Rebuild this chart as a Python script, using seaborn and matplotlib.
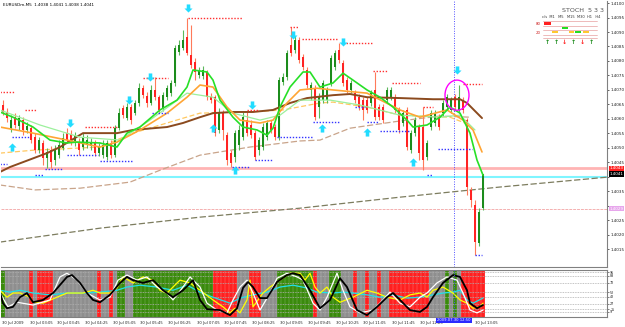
import numpy as np
import pandas as pd
import matplotlib
matplotlib.use("Agg")
import matplotlib.pyplot as plt
import seaborn as sns
from matplotlib.patches import Ellipse, Rectangle
from matplotlib.path import Path

sns.set_theme(style="white")
plt.rcParams['font.family'] = ['DejaVu Sans']

# ---------------- candle data (EURUSDm M5, 30 Jul 2009) ----------------
OPEN = [1.40648,1.40624,1.40568,1.40606,1.40575,1.40596,1.40562,1.40568,1.40537,1.40492,
1.40517,1.40465,1.40492,1.40458,1.40475,1.40499,1.40551,1.40548,1.40517,1.40517,
1.40503,1.40510,1.40506,1.40517,1.40482,1.40475,1.40468,1.40517,1.40475,1.40568,
1.40637,1.40603,1.40641,1.40620,1.40655,1.40706,1.40679,1.40655,1.40700,1.40675,
1.40637,1.40675,1.40689,1.40724,1.40831,1.40844,1.40882,1.40820,1.40796,1.40751,
1.40748,1.40762,1.40675,1.40675,1.40562,1.40620,1.40544,1.40482,1.40468,1.40510,
1.40537,1.40596,1.40579,1.40551,1.40492,1.40503,1.40537,1.40586,1.40572,1.40537,
1.40727,1.40744,1.40855,1.40838,1.40872,1.40813,1.40769,1.40700,1.40706,1.40641,
1.40665,1.40665,1.40724,1.40779,1.40838,1.40793,1.40734,1.40700,1.40689,1.40675,
1.40665,1.40665,1.40655,1.40700,1.40641,1.40641,1.40665,1.40675,1.40675,1.40631,
1.40586,1.40631,1.40492,1.40551,1.40572,1.40572,1.40468,1.40572,1.40586,1.40606,
1.40620,1.40641,1.40631,1.40675,1.40631,1.40665,1.40596,1.40355,1.40303,1.40172,
1.40292]
HIGH = [1.40665,1.40637,1.40613,1.40620,1.40613,1.40606,1.40589,1.40579,1.40551,1.40537,
1.40527,1.40499,1.40506,1.40510,1.40527,1.40551,1.40568,1.40562,1.40555,1.40534,
1.40551,1.40544,1.40534,1.40527,1.40517,1.40527,1.40527,1.40527,1.40579,1.40637,
1.40648,1.40655,1.40651,1.40665,1.40724,1.40717,1.40693,1.40717,1.40744,1.40682,
1.40693,1.40717,1.40734,1.40855,1.40872,1.40907,1.40948,1.40924,1.40810,1.40779,
1.40782,1.40769,1.40689,1.40682,1.40637,1.40631,1.40555,1.40492,1.40562,1.40579,
1.40624,1.40624,1.40596,1.40562,1.40537,1.40586,1.40596,1.40596,1.40582,1.40744,
1.40758,1.40838,1.40917,1.40886,1.40882,1.40824,1.40779,1.40727,1.40717,1.40689,
1.40734,1.40710,1.40820,1.40838,1.40862,1.40803,1.40744,1.40734,1.40700,1.40686,
1.40675,1.40675,1.40700,1.40762,1.40651,1.40651,1.40710,1.40710,1.40686,1.40641,
1.40631,1.40641,1.40562,1.40606,1.40582,1.40641,1.40527,1.40631,1.40631,1.40617,
1.40665,1.40686,1.40675,1.40686,1.40717,1.40675,1.40603,1.40365,1.40320,1.40292,
1.40410]
LOW = [1.40613,1.40589,1.40555,1.40568,1.40562,1.40544,1.40551,1.40517,1.40482,1.40482,
1.40441,1.40430,1.40430,1.40441,1.40465,1.40492,1.40517,1.40510,1.40506,1.40475,
1.40492,1.40499,1.40492,1.40472,1.40472,1.40465,1.40458,1.40465,1.40468,1.40562,
1.40603,1.40596,1.40582,1.40613,1.40644,1.40672,1.40641,1.40648,1.40665,1.40620,
1.40627,1.40665,1.40679,1.40713,1.40820,1.40838,1.40820,1.40775,1.40734,1.40741,
1.40737,1.40665,1.40655,1.40541,1.40551,1.40527,1.40441,1.40434,1.40451,1.40492,
1.40527,1.40541,1.40534,1.40458,1.40475,1.40492,1.40527,1.40551,1.40527,1.40527,
1.40717,1.40734,1.40817,1.40827,1.40793,1.40769,1.40706,1.40665,1.40596,1.40603,
1.40655,1.40655,1.40713,1.40769,1.40793,1.40713,1.40689,1.40689,1.40655,1.40631,
1.40596,1.40620,1.40644,1.40596,1.40596,1.40586,1.40655,1.40665,1.40620,1.40551,
1.40575,1.40492,1.40482,1.40541,1.40458,1.40423,1.40458,1.40562,1.40575,1.40562,
1.40610,1.40631,1.40620,1.40631,1.40620,1.40620,1.40337,1.40296,1.40130,1.40161,
1.40286]
CLOSE = [1.40624,1.40603,1.40596,1.40579,1.40603,1.40562,1.40575,1.40527,1.40492,1.40527,
1.40465,1.40486,1.40451,1.40492,1.40510,1.40534,1.40527,1.40527,1.40541,1.40492,
1.40537,1.40527,1.40517,1.40482,1.40503,1.40510,1.40517,1.40475,1.40568,1.40620,
1.40613,1.40641,1.40596,1.40655,1.40706,1.40682,1.40655,1.40700,1.40675,1.40631,
1.40682,1.40706,1.40724,1.40844,1.40855,1.40872,1.40827,1.40786,1.40762,1.40769,
1.40769,1.40675,1.40665,1.40551,1.40624,1.40562,1.40458,1.40447,1.40551,1.40562,
1.40606,1.40551,1.40544,1.40468,1.40527,1.40572,1.40586,1.40562,1.40537,1.40734,
1.40744,1.40827,1.40827,1.40872,1.40803,1.40779,1.40717,1.40717,1.40606,1.40675,
1.40724,1.40700,1.40810,1.40827,1.40803,1.40724,1.40700,1.40724,1.40665,1.40641,
1.40631,1.40631,1.40689,1.40606,1.40606,1.40596,1.40700,1.40700,1.40631,1.40562,
1.40620,1.40503,1.40551,1.40596,1.40482,1.40458,1.40517,1.40620,1.40620,1.40572,
1.40655,1.40675,1.40665,1.40641,1.40675,1.40631,1.40365,1.40320,1.40175,1.40279,
1.40410]
assert len(OPEN) == len(HIGH) == len(LOW) == len(CLOSE) == 121

# ---------------- moving averages (bar index, price) ----------------
FAST_X = [-0.75,2.5,7.5,11.75,16,18.5,24.25,28.5,31,34.25,39.25,43.5,46,47.5,51,52.5,54.25,57.5,60,63.5,66,67.5,69.25,71.75,75,76.75,79.25,82.5,85,87.5,91,94.25,97.5,101,102.5,106,109.25,111.75,114.25,116.75,118.5,120]
FAST_Y = [1.40624,1.40606,1.40572,1.40527,1.40517,1.40520,1.40517,1.40503,1.40551,1.40572,1.40631,1.40665,1.40710,1.40769,1.40762,1.40734,1.40665,1.40606,1.40572,1.40562,1.40544,1.40568,1.40641,1.40710,1.40762,1.40762,1.40710,1.40724,1.40758,1.40734,1.40700,1.40675,1.40641,1.40596,1.40572,1.40579,1.40606,1.40641,1.40620,1.40551,1.40458,1.40406]
ORANGE_X = [-0.75,7.5,16,24.25,28.5,34.25,41,46,49.25,52.5,56,59.25,64.25,67.5,71,74.25,78.5,82.5,91,99.25,104.25,111,115,117.5,119.75]
ORANGE_Y = [1.40572,1.40551,1.40527,1.40503,1.40520,1.40562,1.40620,1.40675,1.40717,1.40710,1.40641,1.40596,1.40586,1.40596,1.40655,1.40700,1.40706,1.40700,1.40689,1.40631,1.40606,1.40631,1.40596,1.40562,1.40486]
LGREEN_X = [-0.75,9.25,19.25,29.25,36.75,46,52.5,57.5,64.25,69.25,74.25,81.75,89.25,99.25,109.25,114.25,118]
LGREEN_Y = [1.40631,1.40579,1.40537,1.40527,1.40596,1.40689,1.40675,1.40620,1.40596,1.40613,1.40665,1.40665,1.40648,1.40613,1.40606,1.40613,1.40562]
LORANGE_X = [-0.75,7.5,24.25,32.5,41,49.25,61.75,70,79.25,82.5,91,99.25,111.75,116.75]
LORANGE_Y = [1.40482,1.40492,1.40503,1.40551,1.40586,1.40620,1.40624,1.40631,1.40655,1.40658,1.40641,1.40613,1.40606,1.40579]
BROWN_X = [-0.75,1.75,11,14.25,20,28.5,32.5,41,45,49.25,52.5,57.5,62.5,67.5,71.75,76,82.5,86.75,91,99.25,107.5,114.25,116,119.75]
BROWN_Y = [1.40417,1.40434,1.40482,1.40503,1.40551,1.40551,1.40562,1.40572,1.40586,1.40606,1.40620,1.40624,1.40624,1.40631,1.40655,1.40672,1.40682,1.40686,1.40675,1.40672,1.40668,1.40668,1.40655,1.40603]
TAN_X = [-0.75,8,19.25,31.75,39.25,49.25,61.75,74.25,79.25,86.75,99.25,109.25,116.75]
TAN_Y = [1.40372,1.40355,1.40361,1.40382,1.40423,1.40475,1.40503,1.40524,1.40527,1.40568,1.40593,1.40610,1.40606]
GRAY_X = [-0.75,24.25,49.25,74.25,99.25,124.25,151]
GRAY_Y = [1.40175,1.40223,1.40261,1.40292,1.40330,1.40365,1.40399]

# support / resistance segments (start bar, end bar, price)
RES = [(-0.75,3,1.40693),(5.5,8.5,1.40631),(20.5,28.75,1.40572),(35,41.25,1.40741),
       (46.25,60,1.40948),(61,63.75,1.40631),(71.75,73.75,1.40917),(74.75,83.5,1.40875),
       (85,92.25,1.40862),(92.5,96.25,1.40765),(97.25,104.25,1.40724),(105,107.5,1.40641),
       (115,119.75,1.40720)]
SUP = [(-0.75,1,1.40444),(2.25,6.75,1.40537),(8,10,1.40406),(10.5,15,1.40427),
       (16,23.75,1.40475),(24.25,32.5,1.40455),(37.25,41.25,1.40620),(57.25,61.75,1.40434),
       (63,67.5,1.40458),(68.5,77.25,1.40537),(77.5,84.25,1.40589),(88,90.5,1.40641),
       (91,93.75,1.40589),(94.25,101.75,1.40558),(106,107.5,1.40406),(108.75,117.25,1.40496),
       (118,119.75,1.40130)]
ARROW_DN_X = [46.25,16.75,36.75,31.5,62.25,72.5,85,113.5]
ARROW_DN_Y = [1.40982,1.40586,1.40744,1.40665,1.40648,1.40889,1.40865,1.40769]
ARROW_UP_X = [2.25,52.5,58,79.75,91,102.5]
ARROW_UP_Y = [1.40503,1.40568,1.40423,1.40568,1.40555,1.40451]

LEVEL_RED = 1.4043
LEVEL_CYAN = 1.4040
LEVEL_PINK = 1.4029
BID = 1.4041
CURSOR_BAR = 112.75
PRICE_TICKS = [1.4015,1.4020,1.4025,1.4030,1.4035,1.4040,1.4045,1.4050,1.4055,1.4060,
               1.4065,1.4070,1.4075,1.4080,1.4085,1.4090,1.4095,1.4100]
HIDDEN_TICKS = [1.4030, 1.4040]   # covered by the price boxes

# ---------------- stochastic sub-window ----------------
ZONES = ''.join(["g","xxxxxx","r","x","rrrr","xxxxxxxxxxx","r","xx","r","x","gg","xx",
                 "gggggggggggggggggggg","rrrrrr","xxx","rrr","xxxx","ggggggggg","r","xxx",
                 "ggg","xxx","r","xx","r","xx","r","xx","rrrrrrrrrr","xxxx","g","x","g","x","rrrrrr"])
assert len(ZONES) == 121
BLACK_X = [-0.75,0,1,2.5,4.25,6,7.5,10,12.5,16,17.25,19.25,21,22.5,24.25,26.75,29.25,31,32.5,35,37.5,40,42.5,45,47.5,49.25,51,54.25,56.75,58.5,60,61.25,62.5,64.25,66,68.5,71,72.5,74.25,76.75,79.25,81.75,84.25,86,88.5,91,93.5,96,97.5,99.25,101.75,104.25,106,107.5,110,112.5,114.25,116,116.75,118.5,120]
BLACK_Y = [52,28,17,20,41,50,30,35,50,85,89,72,50,35,30,46,72,85,78,72,78,56,41,56,78,35,15,13,2,17,61,74,63,39,39,74,89,93,89,56,17,35,82,63,13,2,20,41,50,35,13,9,20,41,72,89,85,56,28,17,24]
WHITE_X = [-0.75,1.25,3.5,7.5,11.75,14.25,16,18.5,21,24.25,26.75,28.75,31,33.5,36,38.5,41,42.5,45,46.75,49.25,51,53.5,56,57.5,59.25,61,62.5,64.25,66.75,68.5,71,73.5,75,77.5,79.25,81,83.5,85,86.75,89.25,92.5,95,96.75,99.25,101.75,104.25,106,108.5,111,113.5,115,116.75,118.5,120]
WHITE_Y = [50,20,30,24,35,85,93,78,50,35,41,78,89,78,85,63,50,35,63,85,63,28,13,7,35,63,78,50,13,50,82,93,85,78,28,13,41,93,56,20,7,13,35,52,28,20,41,50,72,85,78,50,13,7,13]
YELLOW_X = [-0.75,1,2.5,4.25,6.75,7.5,10,13.5,16,20,22.5,24.25,26.75,28.5,30,32.5,35,37.5,39.25,41,42.5,44.25,46.75,49.25,52.5,55,56.75,58,59.25,61,61.75,62.5,63.75,65,66.75,69.25,71.75,74.25,75.5,76.75,78,79.25,81,82.5,84.25,87.5,91,93.5,96,99.25,101.75,104.25,106,107.5,110,112.5,114.25,116,117.5,119.25,120]
YELLOW_Y = [56,41,50,50,41,30,28,41,50,50,56,50,50,61,85,72,85,78,56,50,63,78,72,56,35,20,7,17,7,35,78,20,35,50,63,78,93,93,78,93,63,50,63,41,30,41,56,50,41,35,46,50,41,56,63,50,35,28,17,20,28]
CYAN_X = [-0.75,1.75,4.25,7.5,11.75,16,20,24.25,28.5,31,34.25,38.5,42.5,46,49.25,52.5,56.75,59.25,62.5,66,69.25,72.5,76,78.5,82.5,85,87.5,91,94.25,97.5,101,104.25,107.5,110,112.5,114.25,116,117.5,120]
CYAN_Y = [56,52,56,50,46,50,50,52,56,63,67,63,56,67,52,41,28,39,46,52,63,67,61,52,50,52,50,46,41,46,39,41,46,50,52,56,35,28,39]
STOCH_LEVELS = [95, 88, 72, 52, 42, 27, 15, 9]

TICK_BARS = [-0.25,6.75,13.5,20.5,27.5,34.25,41.25,48.5,55.25,62.25,69.25,76.25,83.25,90,97.25,104.25,118]
TICK_LABELS = ["30 Jul 2009","30 Jul 03:05","30 Jul 03:45","30 Jul 04:25","30 Jul 05:05",
               "30 Jul 05:45","30 Jul 06:25","30 Jul 07:05","30 Jul 07:45","30 Jul 08:25",
               "30 Jul 09:05","30 Jul 09:45","30 Jul 10:25","30 Jul 11:05","30 Jul 11:45",
               "30 Jul 12:25","30 Jul 13:05"]

# ---------------- figure ----------------
W, H = 625, 327
fig = plt.figure(figsize=(W/100, H/100), dpi=100)
fig.patch.set_facecolor('white')
ax = fig.add_axes([1/W, 1-267/H, 606/W, 266/H])
ax2 = fig.add_axes([1/W, 1-317/H, 606/W, 47/H])

XMIN, XMAX = -0.5, 151
ax.set_xlim(XMIN, XMAX)
ax.set_ylim(1.40089, 1.41007)

bars = np.arange(len(CLOSE))
o = np.array(OPEN); c = np.array(CLOSE); hi = np.array(HIGH); lo = np.array(LOW)
up = c >= o
GREEN, RED = '#1c8c1c', '#ff2323'

# horizontal levels
ax.axhline(LEVEL_RED, color='#ffb4b4', lw=2.0, zorder=1)
ax.axhline(LEVEL_CYAN, color='#7ff5ff', lw=1.5, zorder=1)
ax.axhline(LEVEL_PINK, color='#f4b0b0', lw=0.7, ls=(0, (3, 1)), zorder=1)
ax.axvline(CURSOR_BAR, color='#5050ff', lw=0.7, ls=(0, (1, 1.5)), zorder=1)

# moving averages via seaborn
def ma(xs, ys, color, lw, ls='-', z=3):
    d = pd.DataFrame({'bar': xs, 'price': ys})
    sns.lineplot(data=d, x='bar', y='price', ax=ax, color=color, lw=lw,
                 linestyle=ls, estimator=None, sort=False, zorder=z)

ma(GRAY_X, GRAY_Y, '#7d7d5f', 0.9, (0, (5, 2)))
ma(TAN_X, TAN_Y, '#c9a48a', 0.9, (0, (5, 2)))
ma(LORANGE_X, LORANGE_Y, '#ffc860', 0.9, (0, (4, 2)))

# candles
wick_col = np.where(up, '#5cb85c', '#ff7a5a')
ax.vlines(bars, lo, hi, colors=wick_col, lw=0.8, zorder=4)
body_bottom = np.minimum(o, c)
body_h = np.maximum(np.abs(c - o), 0.00003)
ax.bar(bars, body_h, bottom=body_bottom, width=0.62,
       color=np.where(up, GREEN, RED), linewidth=0, zorder=5)

ma(BROWN_X, BROWN_Y, '#8b4a1e', 1.4, z=6)
ma(LGREEN_X, LGREEN_Y, '#9cf09c', 0.9, z=6)
ma(ORANGE_X, ORANGE_Y, '#ffa534', 1.2, z=6)
ma(FAST_X, FAST_Y, '#27e027', 1.2, z=7)

for x0, x1, p in RES:
    ax.hlines(p, x0, x1, color='#ff3030', lw=1.0, ls=(0, (1, 1.2)), zorder=6)
for x0, x1, p in SUP:
    ax.hlines(p, x0, x1, color='#3535ff', lw=1.0, ls=(0, (1, 1.2)), zorder=6)

# arrows
dn = Path([(-0.22, 0.5), (0.22, 0.5), (0.22, 0.0), (0.5, 0.0), (0.0, -0.5), (-0.5, 0.0),
           (-0.22, 0.0), (-0.22, 0.5)],
          [Path.MOVETO] + [Path.LINETO]*6 + [Path.CLOSEPOLY])
upm = Path([(x, -y) for x, y in dn.vertices], dn.codes)
ax.scatter(ARROW_DN_X, ARROW_DN_Y, marker=dn, s=34, color='#22dcff', lw=0, zorder=8)
ax.scatter(ARROW_UP_X, ARROW_UP_Y, marker=upm, s=34, color='#22dcff', lw=0, zorder=8)

ax.add_patch(Ellipse((113.5, 1.40682), 6.0, 0.00104, fill=False, edgecolor='#ff00ff',
                     lw=1.0, zorder=9))

# axes style
ax.set_xlabel(''); ax.set_ylabel('')
ax.set_xticks([])
ax.yaxis.tick_right()
ax.set_yticks(PRICE_TICKS)
ax.set_yticklabels(['' if v in HIDDEN_TICKS else f"{v:.4f}" for v in PRICE_TICKS])
ax.tick_params(axis='y', labelsize=3.0, length=1.5, width=0.5, pad=0.8, colors='#202020')
for s in ax.spines.values():
    s.set_color('#808080'); s.set_linewidth(0.8)
ax.spines['left'].set_visible(False)
ax.spines['top'].set_visible(False)

ytr = ax.get_yaxis_transform()
for p, txt, fc in [(LEVEL_RED, f"{LEVEL_RED:.4f}", '#ff2020'), (BID, f"{BID:.4f}", '#000000'),
                   (LEVEL_PINK, f"{LEVEL_PINK:.4f}", '#e7a6ec')]:
    ax.text(1.004, p, txt, transform=ytr, fontsize=3.0, color='white', va='center', ha='left',
            bbox=dict(facecolor=fc, edgecolor='none', pad=0.4), clip_on=False, zorder=10)

fig.text(3/W, 1-5/H, "EURUSDm,M5  1.4038 1.4041 1.4038 1.4041", fontsize=3.0,
         color='#000000', va='center', ha='left')

# STOCH multi-timeframe box (top right)
def px(x, y):
    return x/W, 1-y/H
fig.text(*px(583, 10), "STOCH  5 3 3", fontsize=4.6, color='#555555', ha='center', va='center')
fig.text(*px(571, 17), "c/s  M1   M5   M15  M30  H1   H4", fontsize=2.6, color='#333333',
         ha='center', va='center')
fig.text(*px(538, 24), "80", fontsize=2.8, color='#cc2020', ha='center', va='center')
fig.text(*px(538, 33), "20", fontsize=2.8, color='#cc2020', ha='center', va='center')
for yy in [21, 25.5, 30, 34.5, 38]:
    fig.add_artist(plt.Line2D([543/W, 597/W], [1-yy/H]*2, color='#e8a0a0', lw=0.5))
for (x0, y0, w, h, fc) in [(544, 22, 7, 2.5, '#ff2020'), (562, 26.5, 6, 2.5, '#22dd22'),
                            (575, 30.5, 6, 2.5, '#22dd22'), (552, 31, 6, 2, '#ffc830'),
                            (569, 31, 5, 2, '#ffc830'), (583, 31, 6, 2, '#ffc830')]:
    fig.add_artist(Rectangle((x0/W, 1-(y0+h)/H), w/W, h/H, facecolor=fc, edgecolor='none'))
for xx, col, sym in [(547, '#1c8c1c', '↑'), (556, '#1c8c1c', '↑'), (564, '#ff2020', '↓'),
                     (573, '#1c8c1c', '↑'), (582, '#ff2020', '↓'), (591, '#1c8c1c', '↑')]:
    fig.text(*px(xx, 42), sym, fontsize=4.5, color=col, ha='center', va='center',
             fontweight='bold')

# ---------------- sub-window ----------------
ax2.set_xlim(XMIN, XMAX)
ax2.set_ylim(-2, 100)
zone_col = {'g': '#3a8a0c', 'r': '#ff2020', 'x': '#8e8e8e'}
ax2.bar(bars, 102, bottom=-2, width=1.0, color=[zone_col[z] for z in ZONES], linewidth=0, zorder=1)
ax2.vlines(bars + 0.5, -2, 100, color='white', lw=0.35, ls=(0, (1, 1)), alpha=0.7, zorder=2)
ax2.hlines(STOCH_LEVELS, XMIN, XMAX, color='#b0b0b0', lw=0.6, ls=(0, (1, 1)), zorder=2)
ax2.axvline(CURSOR_BAR, color='#5050ff', lw=0.7, ls=(0, (1, 1.5)), zorder=6)

def sl(xs, ys, color, lw, z):
    d = pd.DataFrame({'bar': xs, 'value': ys})
    sns.lineplot(data=d, x='bar', y='value', ax=ax2, color=color, lw=lw,
                 estimator=None, sort=False, zorder=z)

sl(CYAN_X, CYAN_Y, '#20e0e8', 0.9, 3)
sl(YELLOW_X, YELLOW_Y, '#ffff00', 0.9, 4)
sl(WHITE_X, WHITE_Y, '#ffffff', 0.9, 4)
sl(BLACK_X, BLACK_Y, '#000000', 1.3, 5)

ax2.set_xlabel(''); ax2.set_ylabel('')
ax2.yaxis.tick_right()
ax2.set_yticks(STOCH_LEVELS)
ax2.set_yticklabels([str(v) for v in STOCH_LEVELS])
ax2.tick_params(axis='y', labelsize=2.4, length=1.5, width=0.4, pad=0.8, colors='#202020')
ax2.set_xticks(TICK_BARS)
ax2.set_xticklabels(TICK_LABELS, ha='left')
ax2.tick_params(axis='x', labelsize=2.7, length=2, width=0.5, pad=0.8, colors='#202020')
for s in ax2.spines.values():
    s.set_color('#808080'); s.set_linewidth(0.8)
ax2.spines['left'].set_visible(False)

ax2.text(CURSOR_BAR, -0.03, "2009.07.30 12:50", transform=ax2.get_xaxis_transform(),
         fontsize=2.7, color='white', ha='center', va='top',
         bbox=dict(facecolor='#2a2aff', edgecolor='none', pad=0.6), clip_on=False, zorder=10)

fig.savefig("out.png", dpi=100, facecolor='white')
